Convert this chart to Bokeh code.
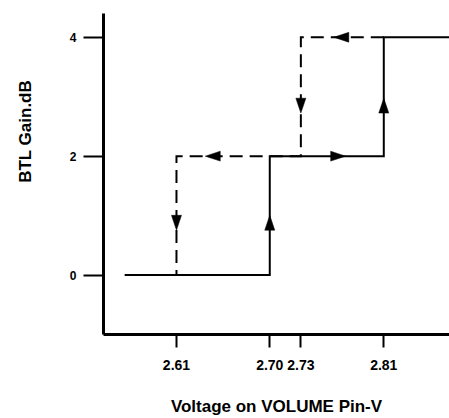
import math
from bokeh.plotting import figure
from bokeh.layouts import row
from bokeh.models import Range1d, FixedTicker, NumeralTickFormatter
from bokeh.core.properties import value
from bokeh.embed import file_html
from bokeh.resources import INLINE

# rising-voltage path (solid)
rise_v = [2.56, 2.70, 2.70, 2.81, 2.81, 2.88]
rise_gain = [0, 0, 2, 2, 4, 4]
# falling-voltage path (dashed)
fall_v = [2.81, 2.73, 2.73, 2.61, 2.61]
fall_gain = [4, 4, 2, 2, 0]
# arrow heads along the paths
arrow_v = [2.70, 2.766, 2.81, 2.769, 2.73, 2.645, 2.61]
arrow_gain = [0.88, 2, 2.85, 4, 2.85, 2, 0.88]
arrow_dir = ["up", "right", "up", "left", "down", "left", "down"]

x_ticks = [2.61, 2.70, 2.73, 2.81]
y_ticks = [0, 2, 4]
x_title = "Voltage on VOLUME Pin-V"
y_title = "BTL Gain.dB"

X0, X1 = 2.5396, 2.8734
Y0, Y1 = -1.0, 4.4
TW = 40                      # width of the strip that holds the y title
W, H = 449 - TW, 418
BL, BR, BT, BB = 103 - TW, 0, 13, 81
FW, FH = W - BL - BR, H - BT - BB

FONT = "Liberation Sans"

# ---- strip with the rotated y-axis title ----
t = figure(width=TW, height=H, output_backend="svg", toolbar_location=None,
           x_range=Range1d(0, TW), y_range=Range1d(0, H),
           x_axis_type=None, y_axis_type=None,
           min_border_left=0, min_border_right=0, min_border_top=0, min_border_bottom=0)
t.outline_line_color = None
t.xgrid.visible = False
t.ygrid.visible = False
t.text(x=[25], y=[H - 153.5], text=[y_title], angle=math.pi / 2,
       text_align="center", text_baseline="middle",
       text_font=value(FONT), text_font_style="bold",
       text_font_size="17px", text_color="black")

# ---- main chart ----
p = figure(width=W, height=H, output_backend="svg", toolbar_location=None,
           x_range=Range1d(X0, X1), y_range=Range1d(Y0, Y1),
           min_border_left=BL, min_border_right=BR, min_border_top=BT, min_border_bottom=BB)
p.outline_line_color = None
p.xgrid.visible = False
p.ygrid.visible = False
p.background_fill_color = "white"
p.border_fill_color = "white"

p.xaxis.ticker = FixedTicker(ticks=x_ticks)
p.xaxis.formatter = NumeralTickFormatter(format="0.00")
p.yaxis.ticker = FixedTicker(ticks=y_ticks)
p.yaxis.formatter = NumeralTickFormatter(format="0")
for ax in (p.xaxis, p.yaxis):
    ax.axis_line_width = 3
    ax.axis_line_color = "black"
    ax.major_tick_line_color = "black"
    ax.major_tick_line_width = 2
    ax.minor_tick_line_color = None
    ax.major_tick_in = 0
    ax.major_label_text_font = FONT
    ax.major_label_text_font_style = "bold"
    ax.major_label_text_color = "black"
p.xaxis.major_tick_out = 13
p.xaxis.major_label_standoff = 12
p.xaxis.major_label_text_font_size = "14px"
p.yaxis.major_tick_out = 20
p.yaxis.major_label_standoff = 7
p.yaxis.major_label_text_font_size = "12px"

p.xaxis.axis_label = x_title
p.xaxis.axis_label_text_font = FONT
p.xaxis.axis_label_text_font_style = "bold"
p.xaxis.axis_label_text_font_size = "17px"
p.xaxis.axis_label_text_color = "black"
p.xaxis.axis_label_standoff = 24

# paths
p.line(fall_v, fall_gain, line_color="black", line_width=2, line_dash="13 7",
       line_join="miter")
p.line(rise_v, rise_gain, line_color="black", line_width=2, line_join="miter")

# arrow heads computed from arrow positions
px_x = FW / (X1 - X0)
px_y = FH / (Y1 - Y0)
L, HW = 15.0, 5.0
xs, ys = [], []
for v, g, d in zip(arrow_v, arrow_gain, arrow_dir):
    if d in ("up", "down"):
        s = 1 if d == "up" else -1
        xs.append([v, v - HW / px_x, v + HW / px_x])
        ys.append([g + s * L / 2 / px_y, g - s * L / 2 / px_y, g - s * L / 2 / px_y])
    else:
        s = 1 if d == "right" else -1
        xs.append([v + s * L / 2 / px_x, v - s * L / 2 / px_x, v - s * L / 2 / px_x])
        ys.append([g, g + HW / px_y, g - HW / px_y])
p.patches(xs, ys, fill_color="black", line_color="black", line_width=0.5)

layout = row(t, p, spacing=0)
open("out.html", "w").write(file_html(layout, INLINE))
